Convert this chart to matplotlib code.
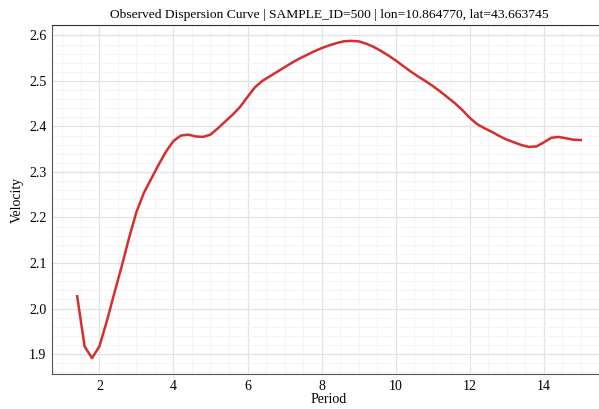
import numpy as np
import matplotlib.pyplot as plt
from matplotlib.ticker import MultipleLocator

plt.rcParams['font.family'] = ['Liberation Serif', 'DejaVu Serif']

# observed dispersion curve, sampled every 0.2 s
period = np.round(np.arange(1.4, 15.01, 0.2), 1)
velocity = [2.027, 1.917, 1.891, 1.917, 1.972, 2.033, 2.092, 2.155, 2.212, 2.254,
            2.285, 2.316, 2.345, 2.368, 2.380, 2.382, 2.378, 2.377, 2.382, 2.396,
            2.411, 2.426, 2.443, 2.465, 2.486, 2.500, 2.510, 2.520, 2.530, 2.540,
            2.549, 2.557, 2.565, 2.572, 2.578, 2.583, 2.587, 2.588, 2.587, 2.582,
            2.575, 2.566, 2.556, 2.545, 2.533, 2.521, 2.510, 2.500, 2.489, 2.477,
            2.464, 2.451, 2.436, 2.419, 2.405, 2.396, 2.388, 2.379, 2.371, 2.365,
            2.359, 2.355, 2.356, 2.365, 2.375, 2.377, 2.374, 2.371, 2.370]

fig = plt.figure(figsize=(5.99, 4.09), dpi=100)
ax = fig.add_axes([52 / 599, 35 / 409, 554 / 599, 349 / 409])

ax.plot(period, velocity, color='#d62d2d', lw=1.8)
ax.margins(x=0.05, y=0.05)

ax.xaxis.set_major_locator(MultipleLocator(2))
ax.xaxis.set_minor_locator(MultipleLocator(0.5))
ax.yaxis.set_major_locator(MultipleLocator(0.1))
ax.yaxis.set_minor_locator(MultipleLocator(0.02))
ax.grid(which='major', color='#e2e2e2', lw=0.9)
ax.grid(which='minor', color='#f2f2f2', lw=0.6)
ax.set_axisbelow(True)
ax.tick_params(which='both', length=0, labelsize=10, pad=4)

ax.spines['right'].set_visible(False)
ax.spines['top'].set_color('#333333')
ax.spines['left'].set_color('#555555')
ax.spines['bottom'].set_color('#555555')

ax.set_xlabel('Period', fontsize=10, labelpad=0)
ax.set_ylabel('Velocity', fontsize=10)
ax.set_title('Observed Dispersion Curve | SAMPLE_ID=500 | lon=10.864770, lat=43.663745',
             fontsize=9.7, pad=5)

fig.savefig('out.png', dpi=100)
